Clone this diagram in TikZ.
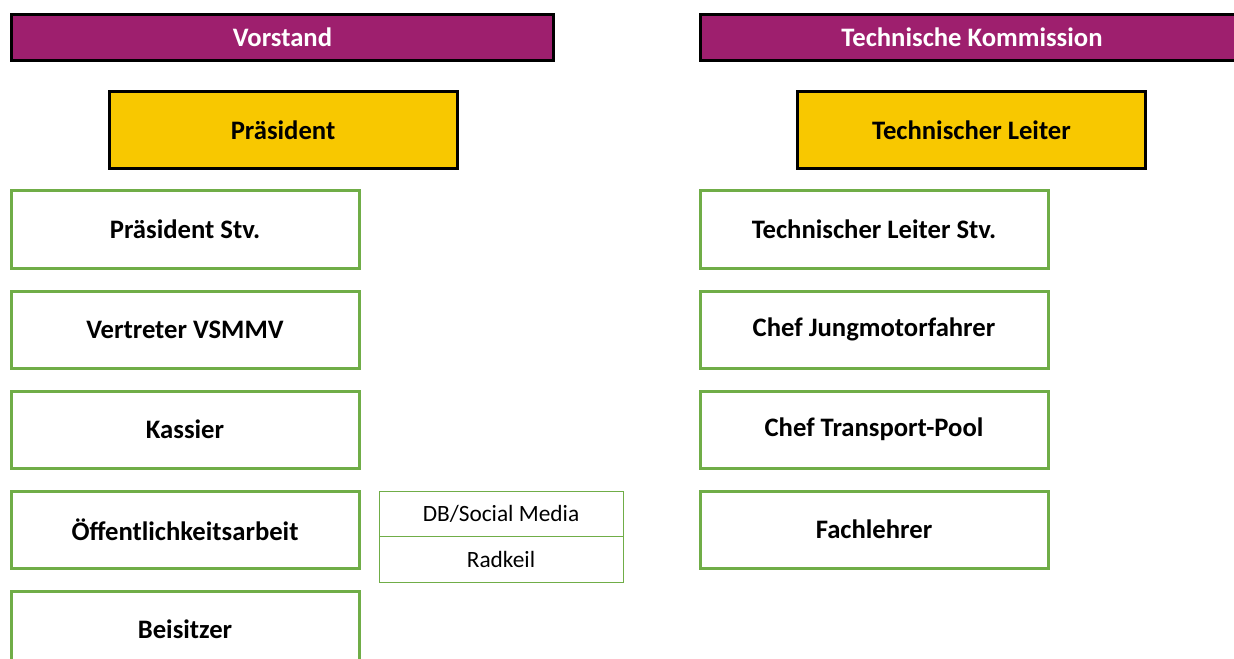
\documentclass[tikz,border=0pt]{standalone}
\usepackage{fontspec}
\setmainfont{Carlito}
\definecolor{vpurple}{RGB}{158,31,110}
\definecolor{vyellow}{RGB}{248,200,0}
\definecolor{vgreen}{RGB}{112,173,71}
\begin{document}
\begin{tikzpicture}[x=0.75pt, y=-0.75pt]
\tikzset{ inner sep=0pt, outer sep=0pt, font=\fontsize{20}{24}\selectfont\bfseries,
  header/.style={draw=black, line width=2.25pt, fill=vpurple, text=white,
    minimum width=407pt, minimum height=35pt},
  chef/.style={draw=black, line width=2.25pt, fill=vyellow,
    minimum width=261pt, minimum height=57.75pt},
  amt/.style={draw=vgreen, line width=2.25pt, fill=white,
    minimum width=261pt, minimum height=57.75pt},
  neben/.style={draw=vgreen, line width=0.75pt, fill=white, font=\fontsize{17.5}{21}\selectfont,
    minimum width=183pt, minimum height=34pt},
}
\useasboundingbox (0,0) rectangle (1234,659);
\clip (0,0) rectangle (1234,659);

%\draw [lightgray, dashed](0,0) grid[step=50] (1234,659);

\node [header] (VS) at (282.5,37.5) {Vorstand};
\node [header] (TK) at (972,37.5)   {Technische Kommission};

\node [chef] (P)  at (283,130.5)   {Präsident};
\node [chef] (TL) at (971.5,130.5) {Technischer Leiter};

% Vorstand
\node [amt] (PS) at (185,229.5) {Präsident Stv.};
\node [amt] (VV) at (185,329.5) {Vertreter VSMMV};
\node [amt] (KA) at (185,429.5) {Kassier};
\node [amt] (OE) at (185,529.5) {Öffentlichkeitsarbeit};
\node [amt] (BE) at (185,629.5) {Beisitzer};

\node [neben, minimum height=34.5pt] (DB) at (501,514)   {DB/Social Media};
\node [neben] (RK) at (501,559.5) {Radkeil};

% Technische Kommission
\node [amt] (TS) at (874,229.5) {Technischer Leiter Stv.};
\node [amt] (JM) at (874,329.5) {Chef Jungmotorfahrer};
\node [amt] (TP) at (874,429.5) {Chef Transport-Pool};
\node [amt] (FL) at (874,529.5) {Fachlehrer};
\end{tikzpicture}
\end{document}
